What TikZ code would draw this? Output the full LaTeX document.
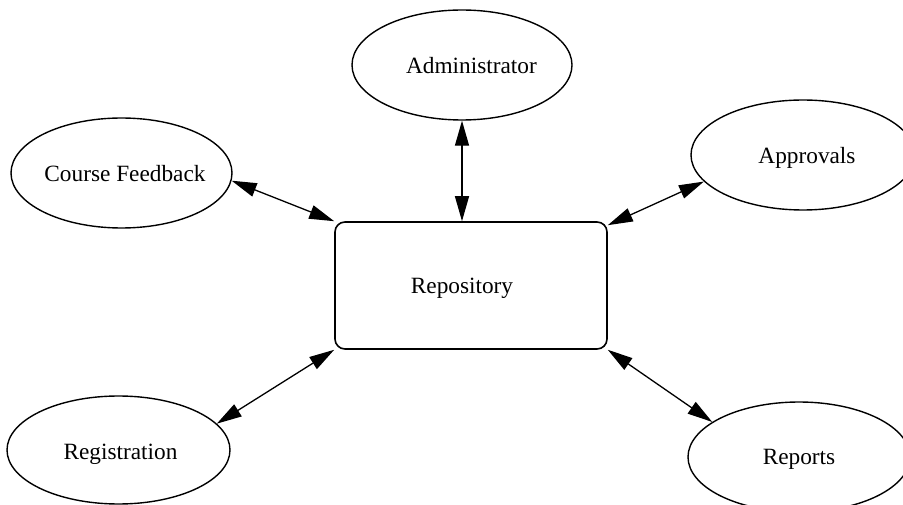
\documentclass[tikz,border=0pt]{standalone}
\usepackage{fontspec}
\setmainfont{Liberation Serif}
\usetikzlibrary{shapes.geometric,arrows.meta}
\begin{document}
\begin{tikzpicture}[x=1pt,y=-1pt,
  oval/.style={ellipse,draw,line width=1.4pt,inner sep=0pt},
  repobox/.style={rectangle,draw,line width=1.6pt,rounded corners=10pt,minimum width=272pt,minimum height=127pt,inner sep=0pt},
  txt/.style={anchor=base,inner sep=0pt,font=\fontsize{23.3}{28}\selectfont},
  link/.style={line width=1.3pt,{Triangle[length=25pt,width=14pt]}-{Triangle[length=25pt,width=14pt]}}]
\useasboundingbox (0,0) rectangle (903,505);
\node[repobox] (repo) at (471,285.5) {};
\node[oval,minimum width=220pt,minimum height=110pt] (admin) at (462,65) {};
\node[oval,minimum width=221pt,minimum height=110pt] (cf) at (121.5,173) {};
\node[oval,minimum width=224pt,minimum height=110pt] (appr) at (803,155) {};
\node[oval,minimum width=223pt,minimum height=108pt] (reg) at (118.5,450) {};
\node[oval,minimum width=222pt,minimum height=110pt] (rep) at (799,457) {};
\node[txt] (repot) at ([xshift=-9pt,yshift=-8pt]repo.center) {Repository};
\node[txt] (admint) at ([xshift=9.5pt,yshift=-8.5pt]admin.center) {Administrator};
\node[txt] (cft) at ([xshift=3.5pt,yshift=-9pt]cf.center) {Course Feedback};
\node[txt] (apprt) at ([xshift=4pt,yshift=-9pt]appr.center) {Approvals};
\node[txt] (regt) at ([xshift=2pt,yshift=-9pt]reg.center) {Registration};
\node[txt] (rept) at ([xshift=0pt,yshift=-7.5pt]rep.center) {Reports};
\draw[link] (admin.south) -- (repo.north -| admin.south);
\draw[link] (cf.-4) -- (repo.north west);
\draw[link] (appr.195) -- ([yshift=-4pt]repo.north east);
\draw[link] (reg.15) -- (repo.south west);
\draw[link] (rep.158) -- (repo.south east);
\end{tikzpicture}
\end{document}
